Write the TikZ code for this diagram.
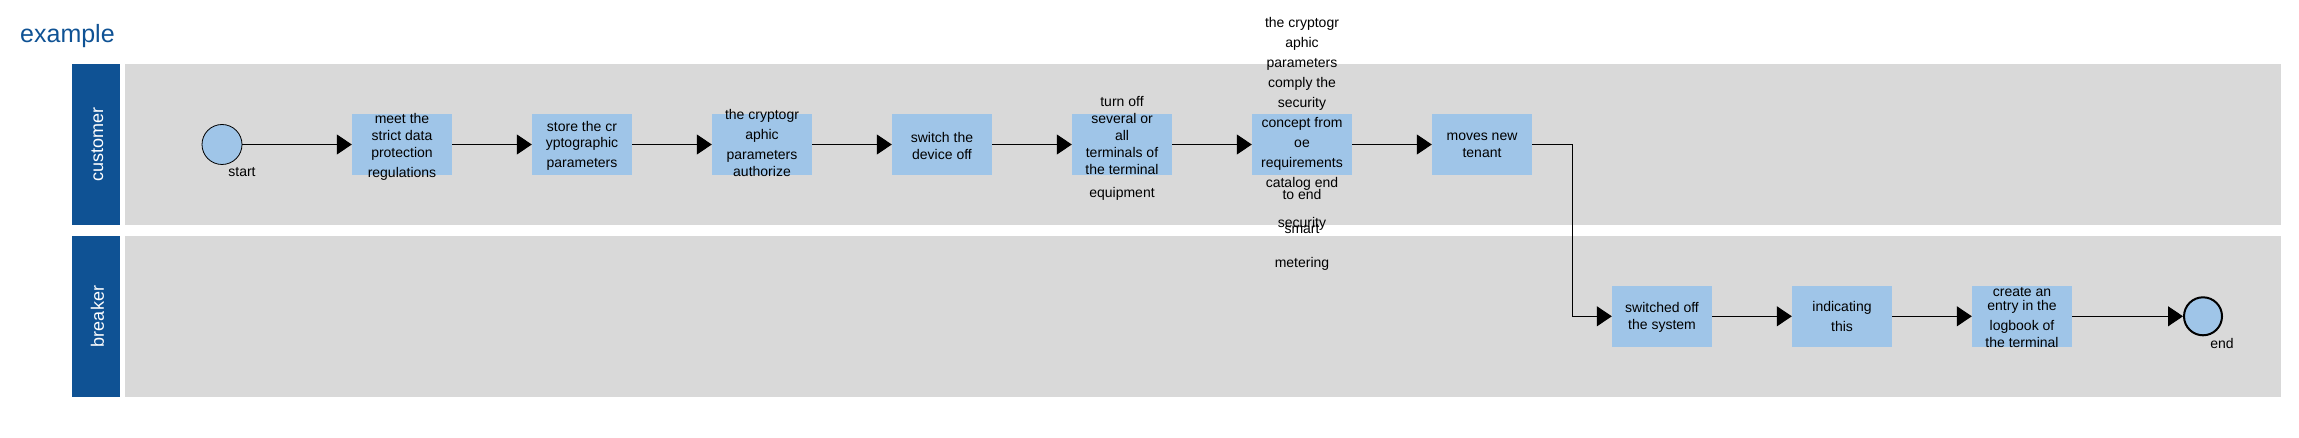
\documentclass[tikz,border=0pt]{standalone}
\usepackage{fontspec}
\setmainfont{Liberation Sans}
\usetikzlibrary{arrows.meta}
\definecolor{laneblue}{HTML}{0F5294}
\definecolor{lanegray}{HTML}{D9D9D9}
\definecolor{taskblue}{HTML}{9FC5E8}
\begin{document}
\begin{tikzpicture}[x=1pt,y=-1pt,
  lanebg/.style={fill=lanegray, draw=none},
  laneband/.style={fill=laneblue, draw=none},
  lanetitle/.style={text=white, font=\fontsize{18}{20}\selectfont, rotate=90, inner sep=0pt},
  task/.style={rectangle, fill=taskblue, draw=none, minimum width=100pt, minimum height=61pt, inner sep=0pt},
  tasktext/.style={font=\fontsize{14}{17}\selectfont, align=center, inner sep=0pt},
  evtext/.style={font=\fontsize{14}{17}\selectfont, inner sep=0pt},
  startev/.style={circle, fill=taskblue, draw=black, line width=0.8pt, minimum size=40pt, inner sep=0pt},
  endev/.style={circle, fill=taskblue, draw=black, line width=2pt, minimum size=38pt, inner sep=0pt},
  flow/.style={draw=black, line width=1pt, -{Triangle[length=15pt,width=20pt]}},
]
\useasboundingbox (0,0) rectangle (2299,438);
% title
\node[anchor=base west, text=laneblue, font=\fontsize{25}{30}\selectfont, inner sep=0pt] (title) at (20,43) {example};
% lanes
\path[laneband] (72,64) rectangle (120,225);
\path[lanebg] (125,64) rectangle (2281,225);
\path[laneband] (72,236) rectangle (120,397);
\path[lanebg] (125,236) rectangle (2281,397);
\node[lanetitle] (lcust) at (97.5,144.5) {customer};
\node[lanetitle] (lbrk) at (97.5,316.5) {breaker};
% events and tasks
\node[startev] (start) at (222,144.5) {};
\node[task] (t1) at (402,144.5) {};
\node[task] (t2) at (582,144.5) {};
\node[task] (t3) at (762,144.5) {};
\node[task] (t4) at (942,144.5) {};
\node[task] (t5) at (1122,144.5) {};
\node[task] (t6) at (1302,144.5) {};
\node[task] (t7) at (1482,144.5) {};
\node[task] (t8) at (1662,316.3) {};
\node[task] (t9) at (1842,316.3) {};
\node[task] (t10) at (2022,316.3) {};
\node[endev] (end) at (2203,316.3) {};
\coordinate (bend) at (1572.5,144.5);
% flows
\draw[flow] (start) -- (t1);
\draw[flow] (t1) -- (t2);
\draw[flow] (t2) -- (t3);
\draw[flow] (t3) -- (t4);
\draw[flow] (t4) -- (t5);
\draw[flow] (t5) -- (t6);
\draw[flow] (t6) -- (t7);
\draw[flow] (t7.east) -- (bend) |- (t8.west);
\draw[flow] (t8) -- (t9);
\draw[flow] (t9) -- (t10);
\draw[flow] (t10) -- (end);
% texts
\node[evtext] (startl) at (242,172) {start};
\node[evtext] (endl) at (2222,343) {end};
\node[tasktext] (t1l) at (402,147) {meet the\\strict data\\protection\\[2.7pt]regulations};
\node[tasktext] (t2l) at (582,146) {store the cr\\[-0.7pt]yptographic\\[2.7pt]parameters};
\node[tasktext] (t3l) at (762,142.7) {the cryptogr\\[3pt]aphic\\[3pt]parameters\\authorize};
\node[tasktext] (t4l) at (942,145.7) {switch the\\device off};
\node[tasktext] (t5l) at (1122,148.7) {turn off\\several or\\all\\terminals of\\the terminal\\[6pt]equipment};
\node[tasktext, font=\fontsize{14}{20}\selectfont] (t6l) at (1302,144) {the cryptogr\\aphic\\parameters\\comply the\\security\\concept from\\oe\\requirements\\catalog end\\[-8pt]to end\\[8pt]security\\[-14pt]smart\\[14pt]metering};
\node[tasktext] (t7l) at (1482,145.5) {moves new\\tenant};
\node[tasktext] (t8l) at (1662,317.8) {switched off\\the system};
\node[tasktext] (t9l) at (1842,316.3) {indicating\\[3pt]this};
\node[tasktext] (t10l) at (2022,317.7) {create an\\[-3pt]entry in the\\[3pt]logbook of\\the terminal};
\end{tikzpicture}
\end{document}
